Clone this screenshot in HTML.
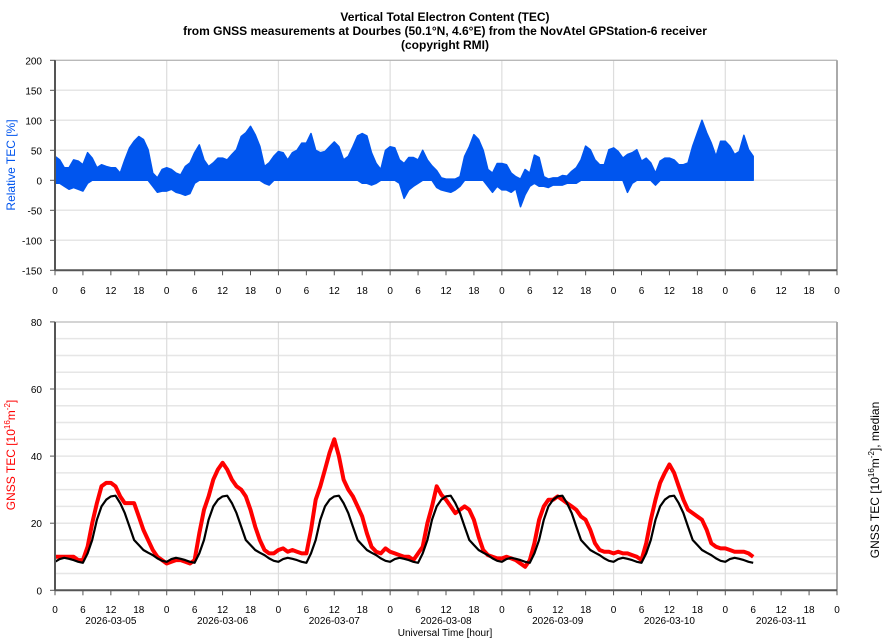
<!DOCTYPE html>
<html><head><meta charset="utf-8"><style>
body{margin:0;background:#fff;}
svg{display:block;font-family:"Liberation Sans",sans-serif;}
</style></head><body>
<svg id="c" width="886" height="640" viewBox="0 0 886 640">
<g font-weight="bold" font-size="12" text-anchor="middle" fill="#000">
<text x="445" y="21">Vertical Total Electron Content (TEC)</text>
<text x="445" y="35">from GNSS measurements at Dourbes (50.1°N, 4.6°E) from the NovAtel GPStation-6 receiver</text>
<text x="445" y="49">(copyright RMI)</text>
</g>
<g id="grid"></g>
<g id="marks"></g>
<g id="axes"></g>
<text transform="translate(15,165) rotate(-90)" text-anchor="middle" font-size="12" fill="#0055ee">Relative TEC [%]</text>
<text transform="translate(15,455) rotate(-90)" text-anchor="middle" font-size="12" fill="#ff0000">GNSS TEC [10<tspan font-size="8" dy="-5">16</tspan><tspan dy="5">m</tspan><tspan font-size="8" dy="-5">-2</tspan><tspan dy="5">]</tspan></text>
<text transform="translate(879,480) rotate(-90)" text-anchor="middle" font-size="12" fill="#000">GNSS TEC [10<tspan font-size="8" dy="-5">16</tspan><tspan dy="5">m</tspan><tspan font-size="8" dy="-5">-2</tspan><tspan dy="5">], median</tspan></text>
<text x="445" y="636" text-anchor="middle" font-size="10" fill="#000">Universal Time [hour]</text>
</svg>
<script>
const dates = ["2026-03-05","2026-03-06","2026-03-07","2026-03-08","2026-03-09","2026-03-10","2026-03-11"];
const hourTicks = [0,6,12,18];
const relTicks = [200,150,100,50,0,-50,-100,-150];
const tecTicks = [0,20,40,60,80];
const relHigh = [40,34,21,21,34,32,26,46,37,21,26,23,21,21,12,34,54,65,73,68,51,12,4,18,
21,18,12,9,23,29,46,59,34,23,29,37,37,34,43,51,73,79,90,76,57,23,29,40,
48,46,34,46,50,62,62,78,50,46,48,56,64,56,34,40,56,74,78,74,46,28,18,50,
56,54,34,28,38,38,34,50,34,24,16,4,2,2,2,6,40,56,76,68,50,18,12,28,
28,26,12,6,2,18,12,42,38,6,2,4,4,8,7,15,21,34,57,51,34,26,26,51,
54,48,37,43,46,51,32,37,29,12,32,37,37,34,26,26,29,57,79,100,79,62,40,65,
65,57,43,48,75,51,40];
const relLow = [-5,-5,-10,-15,-12,-15,-18,-5,0,0,0,0,0,0,0,0,0,0,0,0,0,-10,-20,-18,
-18,-15,-20,-22,-25,-22,-5,0,0,0,0,0,0,0,0,0,0,0,0,0,0,-5,-8,0,
0,0,0,0,0,0,0,0,0,0,0,0,0,0,0,0,0,0,-5,-5,-8,-5,0,0,
0,0,-5,-30,-16,-10,-5,0,0,0,-12,-16,-18,-20,-16,-10,0,0,0,0,0,-10,-20,-10,
-16,-16,-20,-14,-44,-24,-10,-5,-10,-10,-12,-8,-8,-8,-5,-5,-5,0,0,0,0,0,0,0,
0,0,0,-20,-5,0,0,0,0,-8,0,0,0,0,0,0,0,0,0,0,0,0,0,0,
0,0,0,0,0,0,0];
const tec = [10,10,10,10,10,9,9,13,20,26,31,32,32,31,28,26,26,26,22,18,15,12,10,9,
8,8.5,9,9,8.5,8,9,17,24,28,33,36,38,36,33,31,30,28,24,19,15,12,11,11,
12,12.5,11.5,12,11.5,11,11,18,27,31,36,41,45,40,33,30,28,25,22,17,13,11.5,11,12.5,
11.5,11,10.5,10,10,9,11,13,20,25,31,28.5,27,25,23,24,25,24,21,16,12,10.5,10,9.5,
9.5,10,9.5,9,8,7,9,14,21,25,27,27,28,27,26,25,24,22,21,18,14,12,11.5,11.5,
11,11.5,11,11,10.5,10,9,14,21,27,32,35,37.5,35,31,27,24,23,22,21,18,14,13,12.5,
12.5,12,11.5,11.5,11.5,11,10];
const median = [8.5,9.3,9.7,9.4,9,8.5,8.2,11,15,21,25,27,28,28.2,26,23,19,15,13.5,12,11.2,10.5,9.5,8.8];

const NS="http://www.w3.org/2000/svg";
const X0=55, X1=837, DAYS=7;
const xS = h => X0 + h*(X1-X0)/(DAYS*24);
const yTop = v => 180.3 - v*0.6;
const yBot = v => 590.3 - v*3.355;
const TOP0=60.3, TOP1=270.3, BOT0=322, BOT1=590.3;
function el(tag, attrs, parent){const e=document.createElementNS(NS,tag);for(const k in attrs)e.setAttribute(k,attrs[k]);parent.appendChild(e);return e;}
const grid=document.getElementById('grid'), marks=document.getElementById('marks'), axes=document.getElementById('axes');

// top grid
relTicks.forEach(v=>{
  const l=el('line',{x1:X0,x2:X1,y1:yTop(v),y2:yTop(v),stroke:'#e6e6e6','stroke-width':1.5},grid);
  
  
  const t=el('text',{x:42,y:yTop(v)+4,'text-anchor':'end','font-size':10,fill:'#000'},axes);
  t.textContent=v;
  
  
  el('line',{x1:X0-5,x2:X0,y1:yTop(v),y2:yTop(v),stroke:'#555','stroke-width':1},axes);
});
// bottom grid every 5
for(let v=5;v<80;v+=5){
  const l=el('line',{x1:X0,x2:X1,y1:yBot(v),y2:yBot(v),stroke:'#e6e6e6','stroke-width':1.5},grid);
  
  
}
tecTicks.forEach(v=>{
  const t=el('text',{x:42,y:yBot(v)+4,'text-anchor':'end','font-size':10,fill:'#000'},axes);
  t.textContent=v;
  
  
  el('line',{x1:X0-5,x2:X0,y1:yBot(v),y2:yBot(v),stroke:'#555','stroke-width':1},axes);
});
// vertical gridlines at days
for(let d=1;d<DAYS;d++){
  const x=xS(d*24);
  const a=el('line',{x1:x,x2:x,y1:TOP0,y2:TOP1,stroke:'#dddddd','stroke-width':1.2},grid);
  
  
  const b=el('line',{x1:x,x2:x,y1:BOT0,y2:BOT1,stroke:'#dddddd','stroke-width':1.2},grid);
  
  
}
// x ticks
for(let d=0;d<=DAYS;d++){
  hourTicks.forEach(h=>{
    const hh=d*24+h; if(hh>DAYS*24) return;
    const x=xS(hh);
    el('line',{x1:x,x2:x,y1:TOP1,y2:TOP1+5,stroke:'#555'},axes);
    el('line',{x1:x,x2:x,y1:BOT1,y2:BOT1+5,stroke:'#555'},axes);
    const t1=el('text',{x:x,y:294,'text-anchor':'middle','font-size':10},axes);
    t1.textContent=h;
    
    
    const t2=el('text',{x:x,y:613,'text-anchor':'middle','font-size':10},axes);
    t2.textContent=h;
    
    
  });
}
dates.forEach((s,d)=>{
  const t=el('text',{x:xS(d*24+12),y:624,'text-anchor':'middle','font-size':10},axes);
  t.textContent=s;
  
  
});
// frames
[[TOP0,TOP1],[BOT0,BOT1]].forEach(([a,b])=>{
  el('line',{x1:X0,x2:X1,y1:a,y2:a,stroke:'#aaa','stroke-width':1},axes);
  el('line',{x1:X1,x2:X1,y1:a,y2:b,stroke:'#aaa','stroke-width':2},axes);
  el('line',{x1:X0,x2:X0,y1:a,y2:b+0.5,stroke:'#555','stroke-width':2},axes);
  el('line',{x1:X0,x2:X1,y1:b,y2:b,stroke:'#555','stroke-width':2},axes);
});
// relative TEC area
let pts=[];
relHigh.forEach((v,i)=>pts.push(xS(i).toFixed(1)+','+yTop(v).toFixed(1)));
for(let i=relLow.length-1;i>=0;i--) pts.push(xS(i).toFixed(1)+','+yTop(relLow[i]).toFixed(1));
const area=el('polygon',{points:pts.join(' '),fill:'#0055ee',stroke:'#0055ee','stroke-width':1.5,'stroke-linejoin':'round'},marks);


// TEC red
const tl=el('polyline',{points:tec.map((v,i)=>xS(i).toFixed(1)+','+yBot(v).toFixed(1)).join(' '),fill:'none',stroke:'#ff0000','stroke-width':4,'stroke-linejoin':'round'},marks);


// median black
const mp=[];
for(let i=0;i<tec.length;i++) mp.push(xS(i).toFixed(1)+','+yBot(median[i%24]).toFixed(1));
const ml=el('polyline',{points:mp.join(' '),fill:'none',stroke:'#000','stroke-width':2.2,'stroke-linejoin':'round'},marks);


</script>
</body></html>
